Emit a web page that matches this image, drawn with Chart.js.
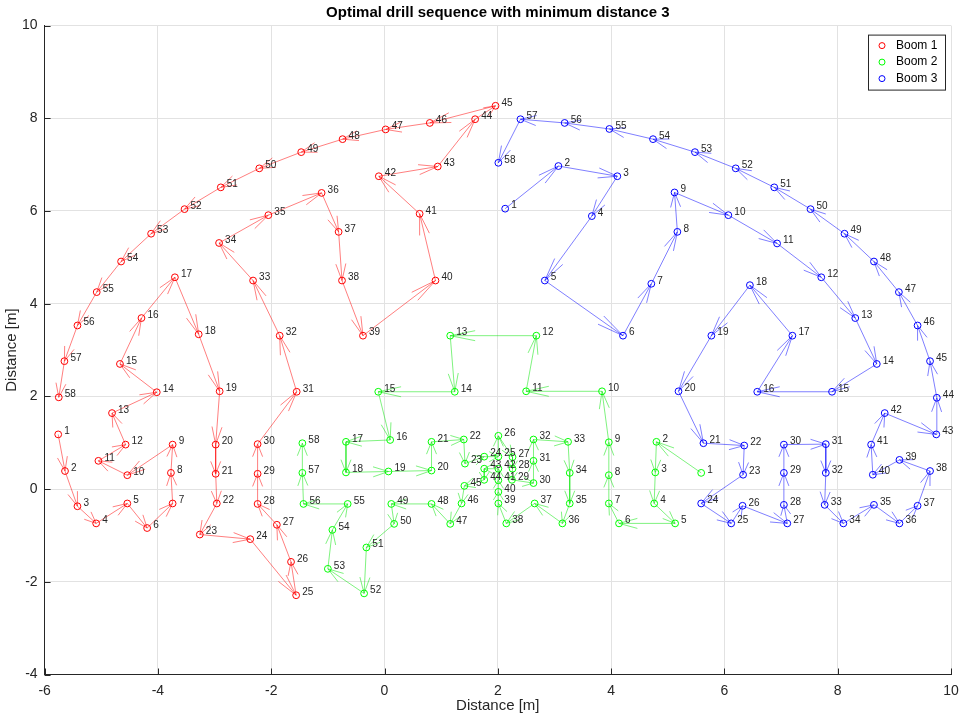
<!DOCTYPE html>
<html lang="en">
<head>
    <meta charset="UTF-8">
    <title>Optimal drill sequence</title>
    <script src="https://cdn.jsdelivr.net/npm/chart.js"></script>
    <style>
        body { margin: 0; background: #fff; }
        #chartBox { width: 961px; height: 719px; }
    </style>
</head>
<body>
    <div id="chartBox">
        <canvas id="drillChart" width="961" height="719"></canvas>
    </div>

    <script>
        // drill hole coordinates, in drilling order
        const boom1X = [-5.76, -5.64, -5.42, -5.09, -4.54, -4.19, -3.74, -3.77, -3.74, -4.54, -5.05, -4.57, -4.81, -4.02, -4.67, -4.29, -3.70, -3.28, -2.91, -2.98, -2.98, -2.96, -3.26, -2.37, -1.56, -1.65, -1.90, -2.24, -2.24, -2.24, -1.55, -1.85, -2.32, -2.92, -2.05, -1.11, -0.81, -0.75, -0.38, 0.90, 0.62, -0.10, 0.94, 1.60, 1.96, 0.80, 0.02, -0.74, -1.47, -2.21, -2.89, -3.53, -4.12, -4.65, -5.08, -5.42, -5.65, -5.75];
        const boom1Y = [1.18, 0.39, -0.37, -0.74, -0.31, -0.84, -0.31, 0.35, 0.96, 0.30, 0.61, 0.96, 1.64, 2.09, 2.70, 3.69, 4.57, 3.34, 2.11, 0.96, 0.33, -0.31, -0.98, -1.08, -2.29, -1.57, -0.77, -0.32, 0.33, 0.97, 2.10, 3.31, 4.50, 5.31, 5.91, 6.39, 5.55, 4.50, 3.31, 4.50, 5.94, 6.75, 6.96, 7.98, 8.27, 7.90, 7.76, 7.55, 7.27, 6.92, 6.51, 6.04, 5.51, 4.91, 4.25, 3.53, 2.76, 1.98];

        const boom2X = [5.59, 4.80, 4.78, 4.76, 5.13, 4.14, 3.96, 3.96, 3.96, 3.84, 2.50, 2.68, 1.16, 1.24, -0.11, 0.10, -0.68, -0.68, 0.07, 0.83, 0.83, 1.40, 1.42, 1.76, 2.01, 2.01, 2.26, 2.26, 2.25, 2.63, 2.63, 2.63, 3.24, 3.27, 3.27, 3.14, 2.65, 2.15, 2.01, 2.01, 2.01, 2.01, 1.76, 1.76, 1.41, 1.36, 1.16, 0.83, 0.12, 0.17, -0.32, -0.36, -1.00, -0.92, -0.65, -1.43, -1.45, -1.45];
        const boom2Y = [0.35, 1.02, 0.36, -0.31, -0.74, -0.74, -0.31, 0.30, 1.01, 2.11, 2.11, 3.31, 3.31, 2.10, 2.10, 1.06, 1.02, 0.36, 0.38, 0.40, 1.02, 1.07, 0.55, 0.70, 0.70, 1.15, 0.69, 0.44, 0.20, 0.13, 0.61, 1.07, 1.02, 0.35, -0.31, -0.74, -0.31, -0.74, -0.31, -0.06, 0.19, 0.44, 0.44, 0.20, 0.07, -0.31, -0.75, -0.32, -0.32, -0.75, -1.26, -2.25, -1.72, -0.88, -0.32, -0.32, 0.35, 0.99];

        const boom3X = [2.13, 3.07, 4.11, 3.66, 2.83, 4.21, 4.71, 5.17, 5.12, 6.07, 6.93, 7.71, 8.31, 8.69, 7.90, 6.58, 7.20, 6.45, 5.77, 5.19, 5.63, 6.35, 6.33, 5.59, 6.12, 6.32, 7.11, 7.05, 7.05, 7.05, 7.79, 7.79, 7.77, 8.10, 8.64, 9.09, 9.41, 9.63, 9.09, 8.62, 8.59, 8.83, 9.74, 9.75, 9.63, 9.41, 9.08, 8.64, 8.12, 7.52, 6.88, 6.20, 5.48, 4.74, 3.97, 3.18, 2.40, 2.01];
        const boom3Y = [6.05, 6.97, 6.75, 5.89, 4.50, 3.31, 4.43, 5.55, 6.40, 5.91, 5.30, 4.57, 3.69, 2.70, 2.10, 2.10, 3.31, 4.40, 3.31, 2.11, 0.99, 0.94, 0.31, -0.31, -0.74, -0.36, -0.74, -0.34, 0.35, 0.96, 0.97, 0.35, -0.34, -0.74, -0.34, -0.74, -0.36, 0.39, 0.63, 0.31, 0.96, 1.64, 1.18, 1.97, 2.76, 3.53, 4.25, 4.91, 5.51, 6.04, 6.51, 6.92, 7.27, 7.55, 7.77, 7.90, 7.98, 7.04];

        const boomNames = ['Boom 1', 'Boom 2', 'Boom 3'];
        const markerColors = ['#ff0000', '#00ff00', '#0000ff'];
        const pathColors = ['rgba(255,0,0,0.5)', 'rgba(0,230,0,0.5)', 'rgba(0,0,255,0.5)'];

        const xTicks = [-6, -4, -2, 0, 2, 4, 6, 8, 10];
        const yTicks = [-4, -2, 0, 2, 4, 6, 8, 10];
        const chartTitle = 'Optimal drill sequence with minimum distance 3';

        const FONT = "'Liberation Sans', Arial, Helvetica, sans-serif";
        const AXIS_COLOR = '#262626';

        function toPoints(xs, ys) {
            return xs.map((x, i) => ({ x: x, y: ys[i] }));
        }

        const seriesX = [boom1X, boom2X, boom3X];
        const seriesY = [boom1Y, boom2Y, boom3Y];

        const datasets = boomNames.map((name, i) => ({
            label: name,
            data: toPoints(seriesX[i], seriesY[i]),
            showLine: true,
            borderColor: pathColors[i],
            borderWidth: 1,
            pointRadius: 3.4,
            pointHoverRadius: 3.4,
            pointBorderWidth: 1,
            pointBorderColor: markerColors[i],
            pointBackgroundColor: 'rgba(0,0,0,0)',
            arrowColor: pathColors[i]
        }));

        // arrow heads on every path segment, tip on the next hole
        const arrowHeads = {
            id: 'arrowHeads',
            afterDatasetsDraw(chart) {
                const ctx = chart.ctx;
                chart.data.datasets.forEach((ds, i) => {
                    const pts = chart.getDatasetMeta(i).data;
                    ctx.save();
                    ctx.strokeStyle = ds.arrowColor;
                    ctx.lineWidth = 1;
                    for (let k = 1; k < pts.length; k++) {
                        const a = pts[k - 1], b = pts[k];
                        const dx = b.x - a.x, dy = b.y - a.y;
                        const len = Math.hypot(dx, dy);
                        if (len < 1) continue;
                        const ux = dx / len, uy = dy / len;
                        const hl = Math.min(6 + 0.22 * len, len * 0.7);
                        const hw = 5;
                        const bx = b.x - ux * hl, by = b.y - uy * hl;
                        ctx.beginPath();
                        ctx.moveTo(bx - uy * hw, by + ux * hw);
                        ctx.lineTo(b.x, b.y);
                        ctx.lineTo(bx + uy * hw, by - ux * hw);
                        ctx.stroke();
                    }
                    ctx.restore();
                });
            }
        };

        // hole numbers next to each marker
        const holeNumbers = {
            id: 'holeNumbers',
            afterDatasetsDraw(chart) {
                const ctx = chart.ctx;
                ctx.save();
                ctx.font = '10px ' + FONT;
                ctx.fillStyle = '#262626';
                ctx.textAlign = 'left';
                ctx.textBaseline = 'middle';
                chart.data.datasets.forEach((ds, i) => {
                    chart.getDatasetMeta(i).data.forEach((p, k) => {
                        ctx.fillText(String(k + 1), p.x + 6, p.y - 3);
                    });
                });
                ctx.restore();
            }
        };

        // matlab-like inward ticks, title over the axes and boxed legend
        const axesDecor = {
            id: 'axesDecor',
            afterDraw(chart) {
                const ctx = chart.ctx;
                const area = chart.chartArea;
                const xs = chart.scales.x, ys = chart.scales.y;
                ctx.save();
                ctx.strokeStyle = AXIS_COLOR;
                ctx.lineWidth = 1;
                ctx.beginPath();
                xTicks.forEach(v => {
                    const px = Math.round(xs.getPixelForValue(v)) + 0.5;
                    ctx.moveTo(px, area.bottom);
                    ctx.lineTo(px, area.bottom - 6);
                });
                yTicks.forEach(v => {
                    const py = Math.round(ys.getPixelForValue(v)) + 0.5;
                    ctx.moveTo(area.left, py);
                    ctx.lineTo(area.left + 6, py);
                });
                ctx.stroke();

                ctx.fillStyle = '#000000';
                ctx.font = 'bold 15px ' + FONT;
                ctx.textAlign = 'center';
                ctx.textBaseline = 'middle';
                ctx.fillText(chartTitle, (area.left + area.right) / 2, 12.5);

                // legend
                const boxW = 77, boxH = 55;
                const left = area.right - boxW - 6, top = area.top + 9;
                ctx.fillStyle = '#ffffff';
                ctx.fillRect(left, top, boxW, boxH);
                ctx.strokeStyle = AXIS_COLOR;
                ctx.strokeRect(left + 0.5, top + 0.5, boxW, boxH);
                ctx.font = '12px ' + FONT;
                ctx.textBaseline = 'middle';
                ctx.textAlign = 'left';
                boomNames.forEach((name, i) => {
                    const cy = top + 11 + i * 16.5;
                    ctx.beginPath();
                    ctx.strokeStyle = markerColors[i];
                    ctx.arc(left + 14, cy, 3, 0, Math.PI * 2);
                    ctx.stroke();
                    ctx.fillStyle = '#000000';
                    ctx.fillText(name, left + 28, cy);
                });
                ctx.restore();
            }
        };

        const ctx = document.getElementById('drillChart').getContext('2d');
        new Chart(ctx, {
            type: 'scatter',
            data: { datasets: datasets },
            options: {
                responsive: false,
                animation: false,
                layout: { padding: { left: 0, right: 10, top: 25.6, bottom: 0 } },
                plugins: {
                    legend: { display: false },
                    tooltip: { enabled: false },
                    title: { display: false }
                },
                scales: {
                    x: {
                        type: 'linear',
                        min: -6,
                        max: 10,
                        afterBuildTicks: (scale) => { scale.ticks = xTicks.map(v => ({ value: v })); },
                        afterFit: (scale) => {
                            scale.height = 44.5;
                            scale.paddingLeft = 0;
                            scale.paddingRight = 0;
                        },
                        grid: { color: '#e2e2e2', drawTicks: false },
                        border: { color: AXIS_COLOR },
                        ticks: { color: AXIS_COLOR, padding: 8, font: { family: FONT, size: 14 }, maxRotation: 0 },
                        title: {
                            display: true,
                            text: 'Distance [m]',
                            color: AXIS_COLOR,
                            font: { family: FONT, size: 15 },
                            padding: { top: 0, bottom: 4 }
                        }
                    },
                    y: {
                        type: 'linear',
                        min: -4,
                        max: 10,
                        afterBuildTicks: (scale) => { scale.ticks = yTicks.map(v => ({ value: v })); },
                        afterFit: (scale) => {
                            scale.width = 44.6;
                            scale.paddingTop = 0;
                            scale.paddingBottom = 0;
                        },
                        grid: { color: '#e2e2e2', drawTicks: false },
                        border: { color: AXIS_COLOR },
                        ticks: { color: AXIS_COLOR, padding: 7, font: { family: FONT, size: 14 } },
                        title: {
                            display: true,
                            text: 'Distance [m]',
                            color: AXIS_COLOR,
                            font: { family: FONT, size: 15 },
                            padding: { top: 3, bottom: 0 }
                        }
                    }
                }
            },
            plugins: [arrowHeads, holeNumbers, axesDecor]
        });
    </script>
</body>
</html>
